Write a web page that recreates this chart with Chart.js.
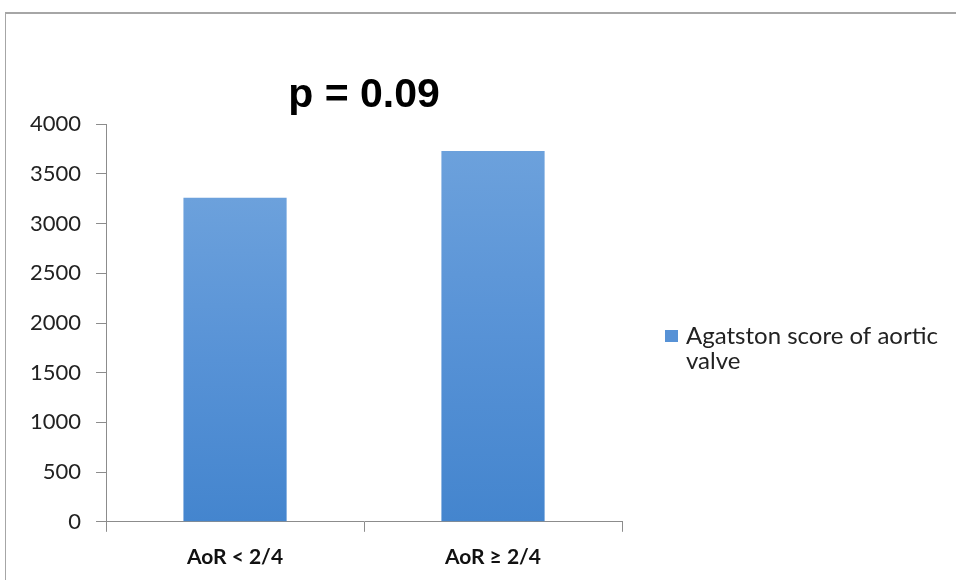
<!DOCTYPE html>
<html>
<head>
<meta charset="utf-8">
<script src="https://cdn.jsdelivr.net/npm/chart.js@4/dist/chart.umd.min.js"></script>
<style>
  html, body { margin: 0; padding: 0; background: #fff; }
  #wrap { position: relative; width: 956px; height: 580px; overflow: hidden; }
  #frame { position: absolute; left: 5px; top: 12px; width: 1000px; height: 620px;
           border-top: 2px solid #a6a6a6; border-left: 1px solid #a6a6a6; }
  canvas { position: absolute; left: 0; top: 0; }
</style>
</head>
<body>
<div id="wrap">
  <div id="frame"></div>
  <canvas id="agatstonChart" width="956" height="580"></canvas>
</div>
<script>
// dữ liệu
const categories = ['AoR < 2/4', 'AoR \u2265 2/4'];
const agatstonValues = [3260, 3730];
const seriesLabel = ['Agatston score of aortic', 'valve'];
const yTicks = [0, 500, 1000, 1500, 2000, 2500, 3000, 3500, 4000];
const titleText = 'p = 0.09';

const axisColor = '#8c8c8c';
const legendColor = '#5792d6';

function barGradient(context) {
    const chart = context.chart;
    const area = chart.chartArea;
    if (!area || context.raw === undefined) return legendColor;
    const top = chart.scales.y.getPixelForValue(context.raw);
    const g = chart.ctx.createLinearGradient(0, top, 0, area.bottom);
    g.addColorStop(0, '#6ca1dc');
    g.addColorStop(0.5, '#5792d6');
    g.addColorStop(1, '#4485ce');
    return g;
}

// legend bên phải, chữ xuống dòng như Excel
const sideLegend = {
    id: 'sideLegend',
    afterDraw(chart) {
        const c = chart.ctx;
        const area = chart.chartArea;
        const x = area.right + 43;
        const y = 336;
        c.save();
        c.fillStyle = legendColor;
        c.fillRect(x, y - 6, 13, 12);
        c.fillStyle = '#222';
        c.font = '24px Lato';
        c.textBaseline = 'middle';
        c.textAlign = 'left';
        seriesLabel.forEach((line, i) => {
            c.fillText(line, x + 21, y + i * 25);
        });
        c.restore();
    }
};

const ctx = document.getElementById('agatstonChart').getContext('2d');
const agatstonChart = new Chart(ctx, {
    type: 'bar',
    data: {
        labels: categories,
        datasets: [{
            label: seriesLabel.join(' '),
            data: agatstonValues,
            backgroundColor: barGradient,
            borderWidth: 0,
            categoryPercentage: 1,
            barPercentage: 0.4
        }]
    },
    options: {
        responsive: false,
        animation: false,
        layout: {
            padding: { top: 71, bottom: -3, left: 15, right: 334 }
        },
        scales: {
            y: {
                min: 0,
                max: 4000,
                afterBuildTicks: function(scale) {
                    scale.ticks = yTicks.map(v => ({ value: v }));
                },
                border: { color: axisColor, width: 1 },
                grid: {
                    drawOnChartArea: false,
                    drawTicks: true,
                    tickLength: 10,
                    color: axisColor
                },
                ticks: {
                    padding: 15,
                    color: '#222',
                    font: { family: 'Lato', size: 22 },
                    callback: function(value) {
                        return String(value);
                    }
                }
            },
            x: {
                border: { color: axisColor, width: 1 },
                grid: {
                    offset: true,
                    drawOnChartArea: false,
                    drawTicks: true,
                    tickLength: 10,
                    color: axisColor
                },
                ticks: {
                    padding: 13,
                    color: '#111',
                    font: { family: 'Lato', size: 21, weight: 'bold' }
                }
            }
        },
        plugins: {
            title: {
                display: true,
                text: titleText,
                fullSize: false,
                color: '#000',
                font: { family: 'Liberation Sans', size: 41, weight: 'bold' },
                padding: { top: 0, bottom: 4 }
            },
            legend: { display: false },
            tooltip: { enabled: false }
        }
    },
    plugins: [sideLegend]
});
</script>
</body>
</html>
